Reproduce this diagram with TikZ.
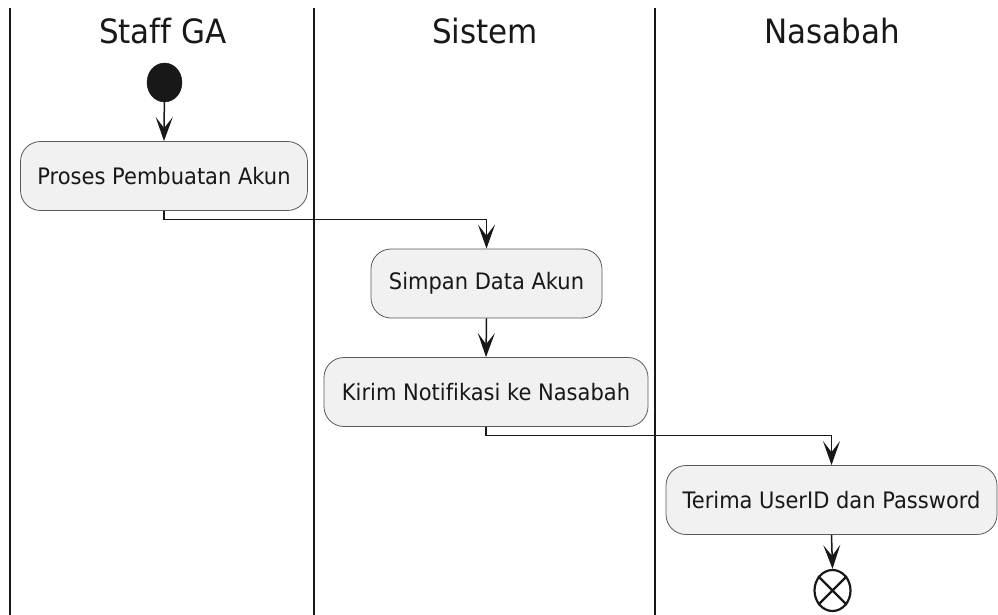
\documentclass[tikz,border=0pt]{standalone}
\usepackage{fontspec}
\usepackage{graphicx}
\setmainfont{DejaVu Sans}[Ligatures=NoCommon]
\usetikzlibrary{arrows.meta,shapes.geometric}
\definecolor{ink}{HTML}{181818}
\definecolor{boxfill}{HTML}{F1F1F1}
\definecolor{boxline}{HTML}{5A5A5A}
% letters are drawn slightly taller than wide
\newcommand{\tallText}[1]{\scalebox{1}[1.08]{#1}}
\begin{document}
\begin{tikzpicture}[x=1pt,y=-1pt,
  lane/.style={draw=ink, line width=1.8pt},
  head/.style={font=\fontsize{31}{36}\selectfont, text=ink, inner sep=0pt},
  actbox/.style={draw=boxline, line width=0.8pt, fill=boxfill,
    rounded corners=20pt, minimum height=69pt, inner sep=0pt,
    font=\fontsize{21}{24}\selectfont, text=ink},
  flow/.style={draw=ink, line width=1.5pt,
    -{Stealth[length=24pt,width=17pt,inset=11pt]}},
  startdot/.style={ellipse, fill=ink, draw=ink, minimum width=35pt, minimum height=39pt, inner sep=0pt},
  enddot/.style={ellipse, draw=ink, line width=2.2pt, fill=white, minimum width=36pt, minimum height=41pt, inner sep=0pt},
]
\useasboundingbox (0,0) rectangle (998,615);

% swimlane separators
\draw[lane] (10,8) -- (10,615);
\draw[lane] (314,8) -- (314,615);
\draw[lane] (655,8) -- (655,615);

% lane titles
\node[head] (hstaff) at (163,31) {\tallText{Staff GA}};
\node[head] (hsys) at (485,31) {\tallText{Sistem}};
\node[head] (hnas) at (832,31) {\tallText{Nasabah}};

% activities
\node[startdot] (start) at (164.5,82.5) {};
\node[actbox, minimum width=287pt] (buat) at (164,176) {\tallText{Proses Pembuatan Akun}};
\node[actbox, minimum width=231pt] (simpan) at (486.5,283.5) {\tallText{Simpan Data Akun}};
\node[actbox, minimum width=324pt] (kirim) at (486,392) {\tallText{Kirim Notifikasi ke Nasabah}};
\node[actbox, minimum width=331pt] (terima) at (831.5,500) {\tallText{Terima UserID dan Password}};
\node[enddot] (stop) at (832.5,590.5) {};
\draw[ink, line width=2.2pt] (stop.45) -- (stop.225) (stop.135) -- (stop.315);

% control flow
\draw[flow] (start) -- (buat.north);
\draw[flow] (buat.south) -- ++(0,8.5) -| (simpan.north);
\draw[flow] (simpan.south) -- (kirim.north);
\draw[flow] (kirim.south) -- ++(0,8.5) -| (terima.north);
\draw[flow] (terima.south) -- (stop.north);
\end{tikzpicture}
\end{document}
